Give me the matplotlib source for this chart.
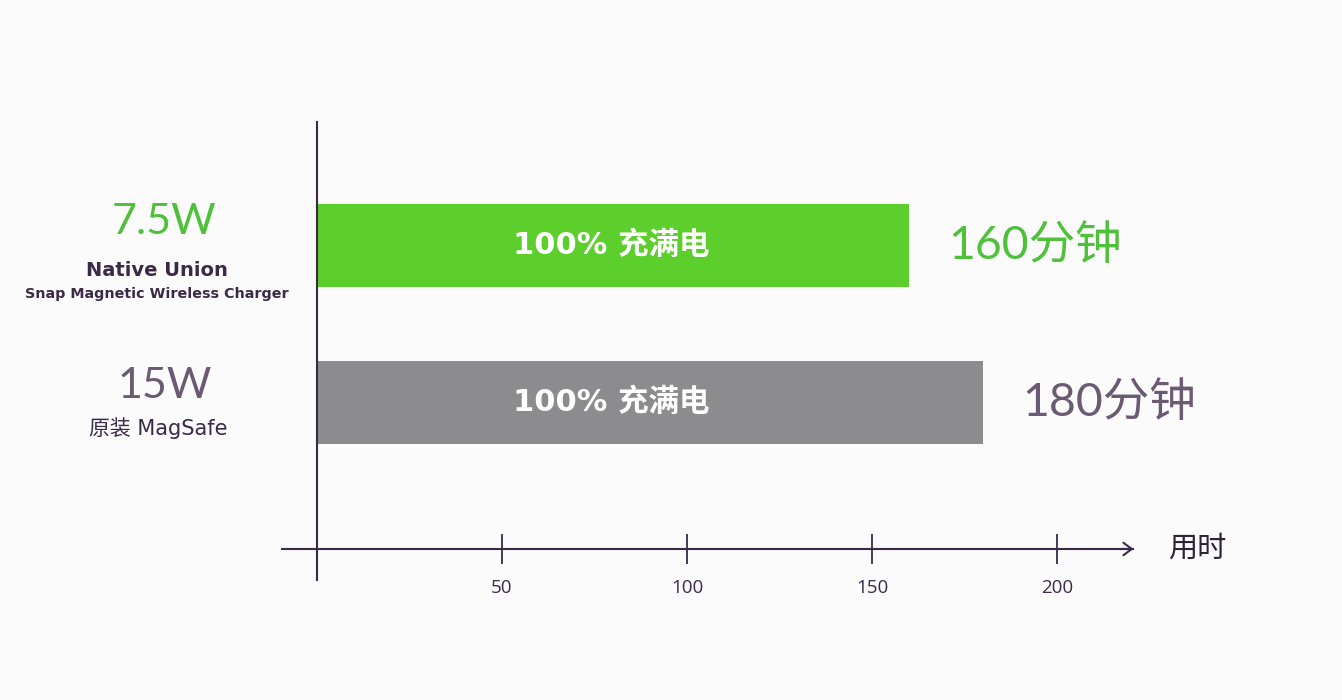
import matplotlib
matplotlib.use("Agg")
import matplotlib.pyplot as plt
import numpy as np

# ---- data ----
power_labels = ["7.5W", "15W"]
product_labels = [["Native Union", "Snap Magnetic Wireless Charger"], ["原装 MagSafe"]]
charge_minutes = [160, 180]
bar_texts = ["100% 充满电", "100% 充满电"]
value_labels = ["160分钟", "180分钟"]
x_ticks = [50, 100, 150, 200]
x_axis_label = "用时"

GREEN = "#5ccf2c"
GREEN_TXT = "#4fc03a"
GRAY = "#8c8c8f"
PURPLE = "#3a2947"
PURPLE_GRAY = "#6a5a72"
BG = "#fbfbfc"

FAM = ["Lato", "Noto Sans CJK SC", "DejaVu Sans"]
plt.rcParams["font.family"] = FAM

W, H = 1342, 700
fig = plt.figure(figsize=(W / 100, H / 100), dpi=100, facecolor=BG)
ax = fig.add_axes([282 / W, 1 - 580 / H, (1142 - 282) / W, (580 - 122) / H])
ax.set_facecolor(BG)

px_per_unit = 3.7
x0 = -(317 - 282) / px_per_unit
x1 = x0 + (1142 - 282) / px_per_unit
ax.set_xlim(x0, x1)

ypos = np.arange(len(charge_minutes))
spacing = 157.0
ytop = -(245.5 - 122) / spacing
ybot = (580 - 245.5) / spacing
ax.set_ylim(ybot, ytop)
y_axis = (549 - 245.5) / spacing

colors = [GREEN, GRAY]
ax.barh(ypos, charge_minutes, height=0.53, color=colors, zorder=2)

# spines
for s in ["top", "right"]:
    ax.spines[s].set_visible(False)
ax.spines["left"].set_position(("data", 0))
ax.spines["left"].set_color(PURPLE)
ax.spines["left"].set_linewidth(1.5)
ax.spines["bottom"].set_position(("data", y_axis))
ax.spines["bottom"].set_color(PURPLE)
ax.spines["bottom"].set_linewidth(1.5)
ax.spines["bottom"].set_bounds(x0, x1 - 2.5)
ax.annotate("", xy=(x1 - 2.3, y_axis), xytext=(x1 - 6, y_axis),
            arrowprops=dict(arrowstyle="->,head_length=0.6,head_width=0.45",
                            color=PURPLE, lw=1.5, shrinkA=0, shrinkB=0))
ax.set_yticks([])
ax.set_xticks(x_ticks)
ax.set_xticklabels([str(t) for t in x_ticks])
ax.tick_params(axis="x", direction="inout", length=21, width=1.3, color=PURPLE,
               labelsize=13.5, labelcolor=PURPLE, pad=11)
for lab in ax.get_xticklabels():
    lab.set_fontfamily(["Open Sans", "DejaVu Sans"])

ax.text(x1 + 7, y_axis, x_axis_label, ha="left", va="center", fontsize=21,
        color="#2e2236", family=["Noto Sans CJK SC"], clip_on=False)

# bar labels
label_x = 79.5
for y, t in zip(ypos, bar_texts):
    ax.text(label_x, y, t, ha="center", va="center", fontsize=22, fontweight="bold",
            color="white", family=["DejaVu Sans", "Noto Sans CJK SC"], zorder=3)

val_colors = [GREEN_TXT, PURPLE_GRAY]
for y, v, t, c in zip(ypos, charge_minutes, value_labels, val_colors):
    ax.text(v + 10.5, y, t, ha="left", va="center", fontsize=33.5, color=c,
            family=["Lato", "Noto Sans CJK SC"], clip_on=False)

# left labels (figure-fraction x, data y)
trans = matplotlib.transforms.blended_transform_factory(fig.transFigure, ax.transData)
power_colors = [GREEN_TXT, PURPLE_GRAY]
ax.text(164 / W, (222 - 245.5) / spacing, power_labels[0], transform=trans, ha="center",
        va="center", fontsize=31, color=power_colors[0], family=["Lato"],
        clip_on=False)
ax.text(157 / W, (270 - 245.5) / spacing, product_labels[0][0], transform=trans,
        ha="center", va="center", fontsize=14, fontweight="bold", color=PURPLE,
        family=["DejaVu Sans"], clip_on=False)
ax.text(157 / W, (294 - 245.5) / spacing, product_labels[0][1], transform=trans,
        ha="center", va="center", fontsize=10.3, fontweight="bold", color=PURPLE,
        family=["DejaVu Sans"], clip_on=False)
ax.text(165 / W, (386 - 245.5) / spacing, power_labels[1], transform=trans,
        ha="center", va="center", fontsize=31, color=power_colors[1],
        family=["Lato"], clip_on=False)
ax.text(158 / W, (428 - 245.5) / spacing, product_labels[1][0], transform=trans,
        ha="center", va="center", fontsize=15, color=PURPLE,
        family=["DejaVu Sans", "Noto Sans CJK SC"], clip_on=False)

fig.savefig("out.png", dpi=100, facecolor=BG)
